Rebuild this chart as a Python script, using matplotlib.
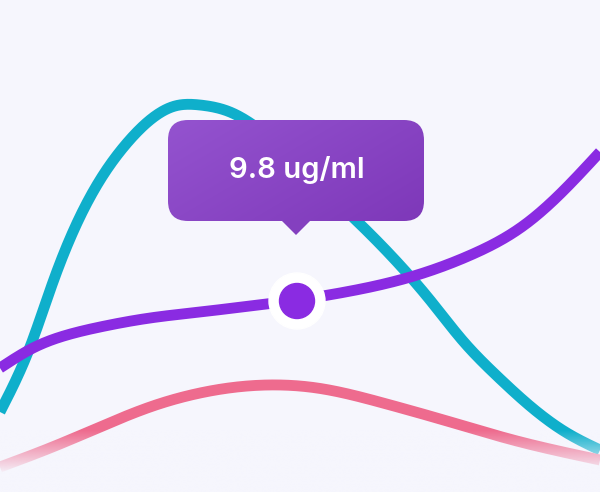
import numpy as np
import matplotlib
matplotlib.use("Agg")
import matplotlib.pyplot as plt
from matplotlib.patches import FancyBboxPatch, Polygon, Circle
from matplotlib.colors import to_rgb

# curve points (x, y in pixel space, y grows downward)
teal_x = [0, 30, 53, 77, 100, 127, 150, 175, 200, 230, 260, 300, 330, 363, 407, 430, 463, 497, 530, 567, 600]
teal_y = [412, 347, 282, 223, 180, 143, 120, 106, 105, 112, 130, 165, 195, 227, 273, 300, 341, 376, 406, 433, 450]
purple_x = [0, 33, 67, 100, 150, 200, 250, 297, 340, 407, 473, 523, 557, 600]
purple_y = [368, 348, 335, 327, 318, 312, 306, 300, 293, 278, 254, 226, 197, 152]
pink_x = [0, 50, 100, 150, 200, 267, 317, 383, 447, 513, 600]
pink_y = [467, 448, 427, 407, 393, 385, 388, 403, 421, 440, 460]

point = (297, 301)
label = "9.8 ug/ml"

BG = "#F6F6FD"
TEAL = "#0FAFCB"
PURPLE = "#8A2BE2"
PINK = "#EE6B8E"


def spline(xs, ys, n=600):
    # natural cubic spline through the read points, for drawing only
    x = np.asarray(xs, float)
    y = np.asarray(ys, float)
    h = np.diff(x)
    m = len(x)
    A = np.zeros((m, m))
    r = np.zeros(m)
    A[0, 0] = A[-1, -1] = 1
    for i in range(1, m - 1):
        A[i, i - 1] = h[i - 1]
        A[i, i] = 2 * (h[i - 1] + h[i])
        A[i, i + 1] = h[i]
        r[i] = 6 * ((y[i + 1] - y[i]) / h[i] - (y[i] - y[i - 1]) / h[i - 1])
    M = np.linalg.solve(A, r)
    xx = np.linspace(x[0], x[-1], n)
    k = np.clip(np.searchsorted(x, xx) - 1, 0, m - 2)
    t = xx - x[k]
    hk = h[k]
    a = y[k]
    b = (y[k + 1] - y[k]) / hk - hk * (2 * M[k] + M[k + 1]) / 6
    yy = a + b * t + M[k] / 2 * t**2 + (M[k + 1] - M[k]) / (6 * hk) * t**3
    return xx, yy


fig = plt.figure(figsize=(6, 4.92), dpi=100)
fig.patch.set_facecolor(BG)
ax = fig.add_axes([0, 0, 1, 1])
ax.set_facecolor(BG)
ax.set_xlim(0, 600)
ax.set_ylim(492, 0)
ax.axis("off")

for xs, ys, c, z in [(teal_x, teal_y, TEAL, 2), (pink_x, pink_y, PINK, 2), (purple_x, purple_y, PURPLE, 3)]:
    sx, sy = spline(xs, ys)
    ax.plot(sx, sy, color=c, lw=7.8, solid_capstyle="butt", zorder=z)

# fade toward the bottom edge
bg = np.array(to_rgb(BG))
ramp = np.clip(np.linspace(0, 1, 100) / 0.7, 0, 1) ** 1.0
fade = np.zeros((100, 2, 4))
fade[:, :, :3] = bg
fade[:, :, 3] = ramp[:, None] * 0.97
ax.imshow(fade, extent=(0, 600, 492, 430), aspect="auto", zorder=4, interpolation="bilinear")

# marker
ax.add_patch(Circle(point, 28, color="white", zorder=5))
ax.add_patch(Circle(point, 17.5, color=PURPLE, zorder=6))

# tooltip with diagonal gradient
bx0, by0, bw, bh = 168, 120, 256, 101
box = FancyBboxPatch((bx0, by0), bw, bh, boxstyle="round,pad=0,rounding_size=20",
                     facecolor="none", edgecolor="none", zorder=7)
ax.add_patch(box)
c1 = np.array(to_rgb("#9453CF"))
c2 = np.array(to_rgb("#7E38B9"))
gx, gy = np.meshgrid(np.linspace(0, 1, 200), np.linspace(0, 1, 100))
g = (gx * 0.6 + gy * 0.4)[..., None]
grad = c1 * (1 - g) + c2 * g
im = ax.imshow(grad, extent=(bx0, bx0 + bw, by0 + bh, by0), aspect="auto", zorder=7,
               interpolation="bilinear")
im.set_clip_path(box)
ax.add_patch(Polygon([(281, by0 + bh - 1), (311, by0 + bh - 1), (296, 235)], closed=True,
                     facecolor="#8440BF", edgecolor="none", zorder=7))
ax.text(bx0 + bw / 2 + 1, by0 + bh / 2 - 1, label, color="white", fontsize=21, ha="center",
        va="center", family=["Inter", "DejaVu Sans"], fontweight="semibold", zorder=8)

ax.set_xlim(0, 600)
ax.set_ylim(492, 0)
fig.savefig("out.png", dpi=100, facecolor=BG)
